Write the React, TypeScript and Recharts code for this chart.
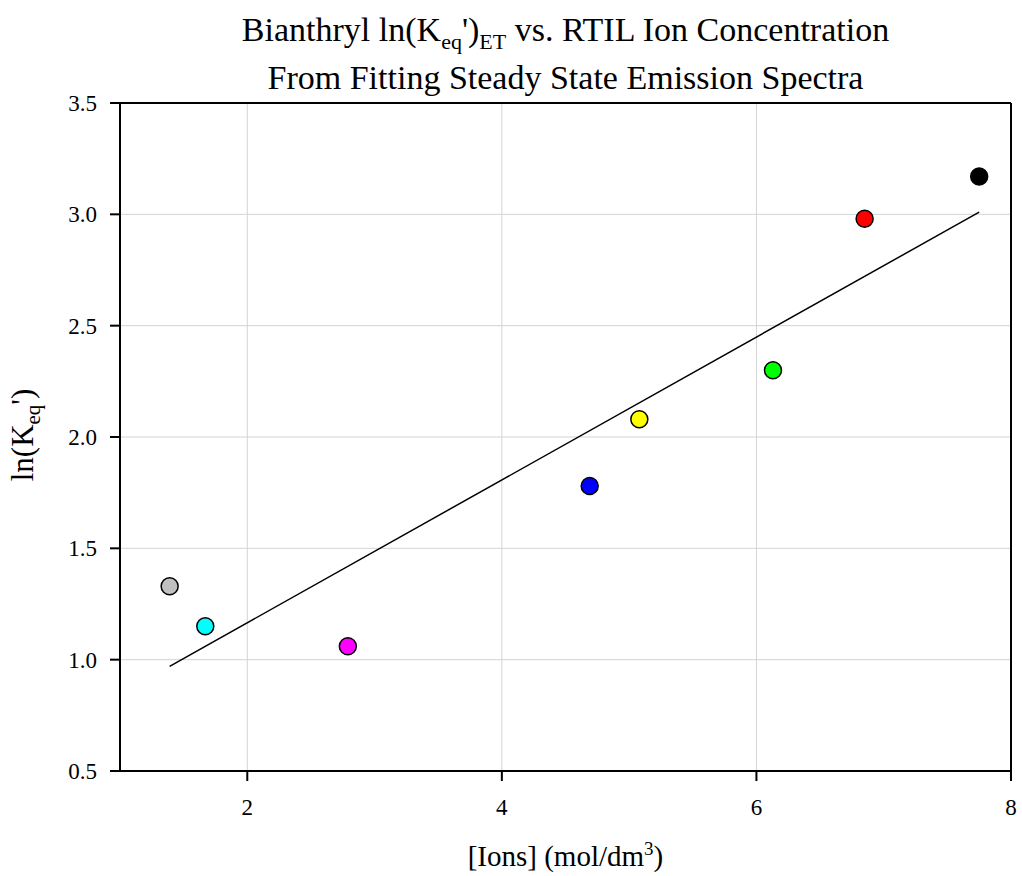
import { ScatterChart, Scatter, XAxis, YAxis, CartesianGrid, ReferenceLine } from "recharts";

const FONT = '"Liberation Serif", "Times New Roman", serif';

// ion concentration (mol/dm3) and ln(Keq') per sample
const ions = [1.39, 1.67, 2.79, 4.69, 5.08, 6.13, 6.85, 7.75];
const lnKeq = [1.33, 1.15, 1.06, 1.78, 2.08, 2.30, 2.98, 3.17];
const colores = ["#c0c0c0", "#00ffff", "#ff00ff", "#0000ff", "#ffff00", "#00ff00", "#ff0000", "#000000"];

// linear fit endpoints
const ajusteX = [1.39, 7.75];
const ajusteY = [0.97, 3.01];

const xTicks = [2, 4, 6, 8];
const yTicks = [0.5, 1.0, 1.5, 2.0, 2.5, 3.0, 3.5];

const puntos = ions.map((x, i) => ({ x, y: lnKeq[i], color: colores[i] }));
const ajuste = ajusteX.map((x, i) => ({ x, y: ajusteY[i] }));

const Punto = (props: any) => {
  if (props.cx == null || props.cy == null) return null;
  return <circle cx={props.cx} cy={props.cy} r={8.5} fill={props.payload.color} stroke="#000" strokeWidth={1.5} />;
};

const TickX = (props: any) => (
  <text x={props.x} y={815} textAnchor="middle" fontSize={23} fontFamily={FONT} fill="#000">
    {props.payload.value}
  </text>
);

const TickY = (props: any) => (
  <text x={97} y={props.y + 8} textAnchor="end" fontSize={23} fontFamily={FONT} fill="#000">
    {Number(props.payload.value).toFixed(1)}
  </text>
);

export default function App() {
  return (
    <div style={{ position: "absolute", left: 0, top: 0, width: 1022, height: 876, background: "#fff", fontFamily: FONT }}>
      <ScatterChart width={1022} height={876} margin={{ top: 103, right: 11, bottom: 0, left: 0 }}>
        <CartesianGrid stroke="#d4d4d4" strokeWidth={1} />
        <XAxis
          type="number"
          dataKey="x"
          domain={[1, 8]}
          ticks={xTicks}
          height={105}
          tick={<TickX />}
          tickSize={10}
          axisLine={{ stroke: "#000", strokeWidth: 2 }}
          tickLine={{ stroke: "#000", strokeWidth: 2 }}
        />
        <YAxis
          type="number"
          dataKey="y"
          domain={[0.5, 3.5]}
          ticks={yTicks}
          width={120}
          tick={<TickY />}
          tickSize={10}
          axisLine={{ stroke: "#000", strokeWidth: 2 }}
          tickLine={{ stroke: "#000", strokeWidth: 2 }}
        />
        <ReferenceLine y={3.5} stroke="#000" strokeWidth={2} />
        <ReferenceLine x={8} stroke="#000" strokeWidth={2} />
        <Scatter data={ajuste} line={{ stroke: "#000", strokeWidth: 1.5 }} shape={() => null} isAnimationActive={false} />
        <Scatter data={puntos} shape={<Punto />} isAnimationActive={false} />
      </ScatterChart>

      <div style={{ position: "absolute", left: 120, width: 891, top: 6, textAlign: "center", fontSize: 34, lineHeight: "48px", color: "#000" }}>
        <div style={{ height: 48, whiteSpace: "nowrap" }}>
          Bianthryl ln(K<sub style={{ fontSize: 22, lineHeight: 0 }}>eq</sub>')<sub style={{ fontSize: 22, lineHeight: 0 }}>ET</sub> vs. RTIL Ion Concentration
        </div>
        <div style={{ height: 48, whiteSpace: "nowrap" }}>From Fitting Steady State Emission Spectra</div>
      </div>

      <div style={{ position: "absolute", left: 120, width: 891, top: 842, textAlign: "center", fontSize: 29, lineHeight: 1, color: "#000" }}>
        [Ions] (mol/dm<sup style={{ fontSize: 19, lineHeight: 0 }}>3</sup>)
      </div>

      <div
        style={{
          position: "absolute",
          left: 22,
          top: 435,
          transform: "translate(-50%, -50%) rotate(-90deg)",
          whiteSpace: "nowrap",
          fontSize: 31,
          lineHeight: 1,
          color: "#000",
        }}
      >
        ln(K<sub style={{ fontSize: 21, lineHeight: 0 }}>eq</sub>')
      </div>
    </div>
  );
}
